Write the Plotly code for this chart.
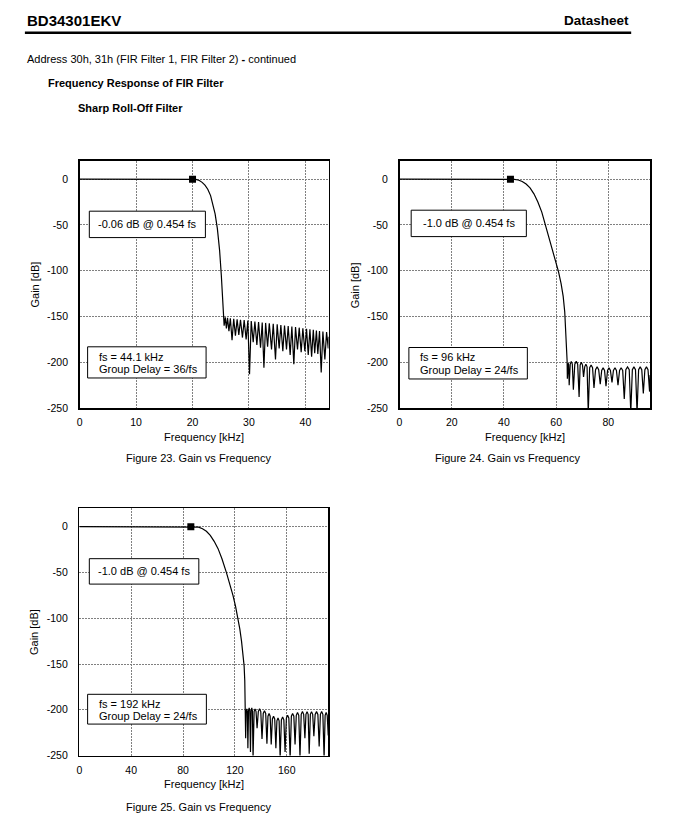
import plotly.graph_objects as go

W, H = 673, 840
FONT = "Liberation Sans, Arial, sans-serif"

# ---------------- data ----------------
# Figure 23 (fs = 44.1 kHz): frequency [kHz], gain [dB]
f1 = [0, 20, 20.6, 21.2, 21.7, 22.2, 22.7, 23.2, 23.6, 24.0, 24.4, 24.8, 25.1, 25.35, 25.5,
      25.6, 25.8, 26.0, 26.2, 26.45, 26.7, 27.0, 27.3, 27.6, 27.9, 28.2, 28.5, 28.85, 29.15,
      29.5, 29.8, 30.1, 30.4, 30.75, 31.05, 31.4, 31.7, 32.05, 32.35, 32.65, 32.95, 33.3, 33.6,
      34.0, 34.3, 34.7, 35.0, 35.35, 35.65, 36.0, 36.3, 36.65, 36.95, 37.3, 37.6, 37.95, 38.25,
      38.6, 38.9, 39.25, 39.55, 39.9, 40.2, 40.5, 40.8, 41.1, 41.4, 41.65, 41.95, 42.2, 42.5,
      42.8, 43.1, 43.45, 43.75, 44.05, 44.1]
g1 = [0, 0, -0.3, -1.5, -3.5, -6.5, -11, -18, -27, -38, -54, -78, -105, -135, -152,
      -160, -151, -163, -151.5, -166, -152, -176, -152.5, -171, -153, -170, -153.5, -173, -154,
      -175, -154.5, -213, -155, -178, -155.5, -181, -156, -184, -156.5, -206, -157, -183, -157.5,
      -186, -158, -197, -158.6, -185, -159.2, -188, -159.8, -186, -160.4, -192, -161, -202, -161.6,
      -186, -162.2, -189, -162.8, -188, -163.4, -192, -164, -194, -164.6, -190, -165.2, -191, -165.8,
      -211, -166.4, -197, -167, -185, -172]
m1_f, m1_g = [20], [0]

# Figure 24 (fs = 96 kHz)
f2 = [0, 42.5, 44, 45.5, 47, 48.5, 50, 51.5, 53, 54.5, 55.9, 57.3, 58.6, 59.8, 60.9, 61.9,
      62.7, 63.3, 63.8, 64.2,
      64.3, 64.5, 64.65, 64.8, 65.0, 65.4, 65.8, 66.2, 66.6, 67.15, 67.7, 68.25, 68.8, 69.2,
      69.65, 70.1, 70.5, 70.95, 71.4, 71.85, 72.3, 72.85, 73.4, 73.95, 74.5, 75.1, 75.7, 76.3,
      76.9, 77.45, 78.0, 78.55, 79.1, 79.7, 80.25, 80.8, 81.4, 81.95, 82.55, 83.1, 83.7, 84.3,
      84.9, 85.5, 86.1, 86.7, 87.35, 88.0, 88.6, 89.2, 89.8, 90.4, 91.0, 91.6, 92.2, 92.8,
      93.4, 94.0, 94.6, 95.2, 95.8, 96.0]
g2 = [0, 0, -0.2, -0.9, -2.5, -5.3, -9.5, -16, -25, -36, -50, -64, -78, -90, -101, -114,
      -128, -145, -168, -198,
      -218, -203, -201, -203, -225, -202, -199, -202, -230, -202, -199, -202, -238, -203,
      -200, -203, -216, -205, -202, -205, -255, -206, -203, -206, -228, -208, -205, -208,
      -224, -209, -206, -209, -226, -209, -206, -209, -222, -209, -206, -209, -225, -209,
      -206, -209, -240, -208, -205, -208, -255, -208, -205, -208, -255, -208, -205, -208,
      -234, -208, -205, -208, -232, -214]
m2_f, m2_g = [42.5], [0]

# Figure 25 (fs = 192 kHz)
f3 = [0, 86, 89, 92, 95, 98, 101, 104, 107, 110, 113.4, 116, 118.5, 120.5, 122.3, 123.8,
      125.1, 126.2, 127.1, 127.6, 128.0,
      128.3, 128.7, 129.15, 129.6, 130.0, 130.5, 131.0, 131.5, 132.0, 132.5, 133.0, 133.5,
      134.0, 134.8, 135.55, 136.3, 137.1, 138.05, 139.0, 139.95, 140.9, 141.85, 142.8, 143.75,
      144.7, 145.5, 146.35, 147.2, 148.0, 148.9, 149.8, 150.7, 151.6, 152.4, 153.25, 154.1,
      154.9, 155.85, 156.8, 157.75, 158.7, 159.7, 160.65, 161.6, 162.6, 163.55, 164.5, 165.45,
      166.4, 167.35, 168.3, 169.25, 170.2, 171.15, 172.1, 173.05, 174.0, 174.8, 175.65, 176.5,
      177.3, 178.2, 179.1, 180.0, 180.9, 181.9, 182.95, 184.0, 185.0, 185.95, 186.9, 187.85,
      188.8, 189.6, 190.4, 191.2, 192.0]
g3 = [0, 0, -0.1, -0.6, -2.3, -5, -9.5, -16, -24, -35, -50, -62, -75, -87, -100, -112,
      -125, -138, -152, -168, -192,
      -231, -202, -199, -202, -242, -201, -198, -201, -246, -201, -198, -201,
      -253, -202, -199, -202, -220, -202, -199, -202, -232, -204, -201, -204,
      -237, -207, -204, -207, -238, -210, -207, -210, -242, -212, -209, -212,
      -253, -211, -208, -211, -246, -209, -206, -209, -253, -207, -204, -207,
      -238, -206, -203, -206, -252, -205, -202, -205, -231, -205, -202, -205,
      -248, -205, -202, -205, -229, -205, -202, -205, -240, -205, -202, -205,
      -253, -206, -203, -206, -228]
m3_f, m3_g = [86], [0]

y_ticks = [-250, -200, -150, -100, -50, 0]
y_ticktext = ["-250", "-200", "-150", "-100", "-50", "0"]
x1_ticks = [0, 10, 20, 30, 40]
x2_ticks = [0, 20, 40, 60, 80]
x3_ticks = [0, 40, 80, 120, 160]

# ---------------- helpers ----------------
def px(x):
    return x / W

def py(y):
    return 1 - y / H

fig = go.Figure()

for f, g, mf, mg, xa, ya in [(f1, g1, m1_f, m1_g, "x", "y"),
                             (f2, g2, m2_f, m2_g, "x2", "y2"),
                             (f3, g3, m3_f, m3_g, "x3", "y3")]:
    fig.add_trace(go.Scatter(x=f, y=g, mode="lines", xaxis=xa, yaxis=ya,
                             line=dict(color="black", width=1.2),
                             showlegend=False, hoverinfo="skip"))
    fig.add_trace(go.Scatter(x=mf, y=mg, mode="markers", xaxis=xa, yaxis=ya,
                             marker=dict(symbol="square", size=7, color="black"),
                             showlegend=False, hoverinfo="skip"))

axis_common = dict(showline=True, mirror=True, linecolor="black", linewidth=1.5,
                   showgrid=True, gridcolor="#808080", gridwidth=1, griddash="2px,1px",
                   zeroline=False, ticks="",
                   tickfont=dict(family=FONT, size=10.5, color="black"))

# plot boxes in pixels: (left, right, top, bottom)
boxes = [(77, 327, 162, 411), (398.3, 650, 162, 411), (76.7, 326.7, 512, 761)]
xranges = [[0, 44.1], [0, 96], [0, 192]]
xticks = [x1_ticks, x2_ticks, x3_ticks]

layout = dict(width=W, height=H, autosize=False, margin=dict(l=0, r=0, t=0, b=0),
              paper_bgcolor="white", plot_bgcolor="white", showlegend=False)
for i, (l, r, t, b) in enumerate(boxes):
    sfx = "" if i == 0 else str(i + 1)
    layout["xaxis" + sfx] = dict(axis_common, domain=[px(l), px(r)], range=xranges[i],
                                 tickvals=xticks[i], anchor="y" + sfx, ticklabelstandoff=4)
    layout["yaxis" + sfx] = dict(axis_common, domain=[py(b), py(t)], range=[-250, 20],
                                 tickvals=y_ticks, ticktext=y_ticktext,
                                 anchor="x" + sfx, ticklabelstandoff=8)
fig.update_layout(**layout)

shapes = []
annotations = []

def text(x, y, s, size=11, xanchor="left", angle=0):
    annotations.append(dict(x=px(x), y=py(y), xref="paper", yref="paper", text=s,
                            showarrow=False, xanchor=xanchor, yanchor="middle",
                            textangle=angle,
                            font=dict(family=FONT, size=size, color="black")))

# header
text(22, 21, "<b>BD34301EKV</b>", size=15)
text(631, 21, "<b>Datasheet</b>", size=13.5, xanchor="right")
shapes.append(dict(type="line", xref="paper", yref="paper", x0=px(22), x1=px(631),
                   y0=py(33), y1=py(33), line=dict(color="black", width=2.5)))
text(22, 59, "Address 30h, 31h (FIR Filter 1, FIR Filter 2) <b>-</b> continued")
text(43, 84, "<b>Frequency Response of FIR Filter</b>")
text(73, 109, "<b>Sharp Roll-Off Filter</b>")

# axis titles & captions
for (l, r, t, b), ylab_x, cap, cap_x, cap_y in [
        (boxes[0], 31.7, "Figure 23. Gain vs Frequency", 196.7, 461.7),
        (boxes[1], 354, "Figure 24. Gain vs Frequency", 506.7, 461.7),
        (boxes[2], 31.7, "Figure 25. Gain vs Frequency", 196.7, 813.3)]:
    text((l + r) / 2, b + 29, "Frequency [kHz]", xanchor="center")
    text(ylab_x, (t + b) / 2 + 0.5, "Gain [dB]", xanchor="center", angle=-90)
    text(cap_x, cap_y, cap, xanchor="center")

# annotation boxes (pixels: x0, x1, y0, y1)
def box(x0, x1, y0, y1):
    shapes.append(dict(type="rect", xref="paper", yref="paper", x0=px(x0), x1=px(x1),
                       y0=py(y1), y1=py(y0), line=dict(color="black", width=1),
                       fillcolor="white", layer="above"))

box(86.7, 203.3, 212.7, 239.3)
text(145, 226, "-0.06 dB @ 0.454 fs", xanchor="center")
box(85, 204, 349.3, 380.7)
text(94, 359.3, "fs = 44.1 kHz")
text(94, 371.7, "Group Delay = 36/fs")

box(410, 525.7, 211.7, 238.3)
text(467.8, 225, "-1.0 dB @ 0.454 fs", xanchor="center")
box(407.7, 526.7, 350, 381.7)
text(416.7, 359.7, "fs = 96 kHz")
text(416.7, 372.2, "Group Delay = 24/fs")

box(86.7, 196.7, 562.7, 588.3)
text(141.7, 575.5, "-1.0 dB @ 0.454 fs", xanchor="center")
box(85, 204.3, 699.3, 729.3)
text(94, 709, "fs = 192 kHz")
text(94, 721.3, "Group Delay = 24/fs")

fig.update_layout(shapes=shapes, annotations=annotations)
fig.write_html("out.html", config={"displayModeBar": False, "staticPlot": True},
               post_script="document.body.style.margin='0px';document.body.style.overflow='hidden';")
